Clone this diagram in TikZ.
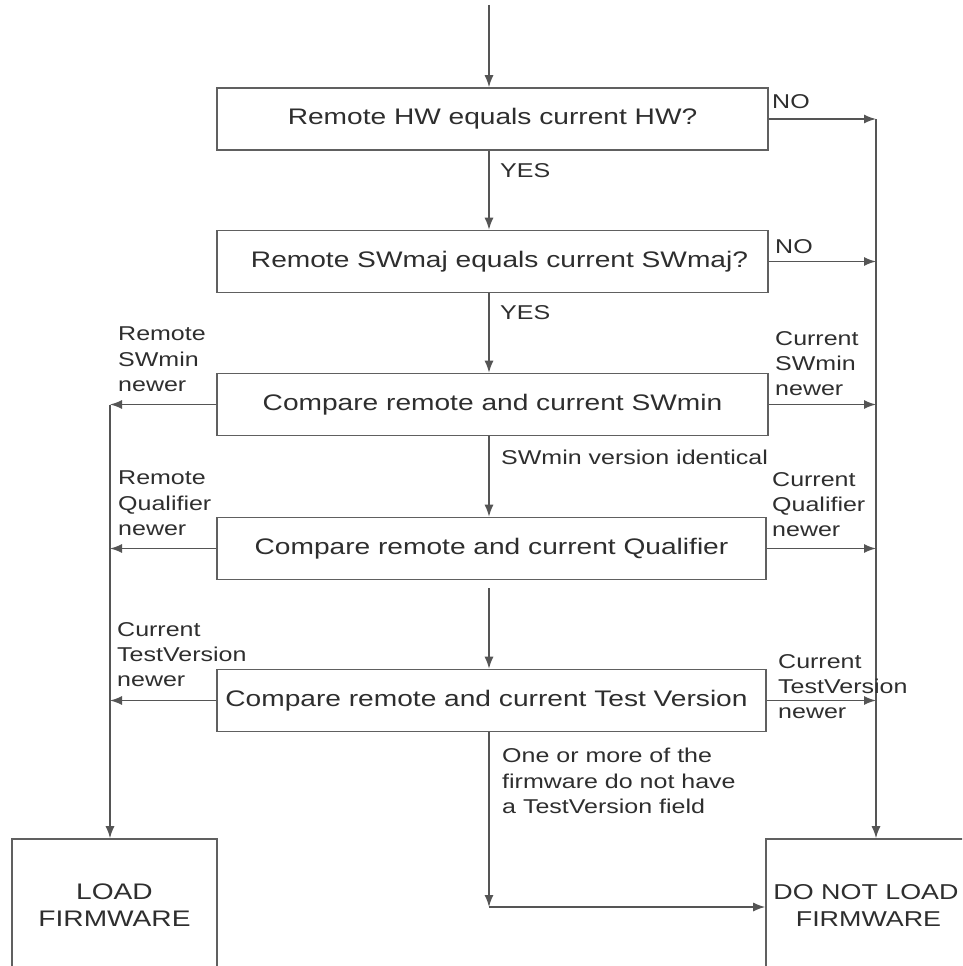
\documentclass[tikz,border=0pt]{standalone}
\usepackage{fontspec}
\setmainfont{Liberation Sans}[FakeStretch=1.25]
\usetikzlibrary{arrows.meta}
\definecolor{txt}{HTML}{2E2E2E}
\definecolor{lncol}{HTML}{555555}
\definecolor{boxcol}{HTML}{606060}
\begin{document}
\begin{tikzpicture}[x=1pt,y=-1pt,
  box/.style={draw=boxcol, line width=1.6pt, minimum width=551pt, minimum height=62pt,
    inner sep=0pt, text=txt, font=\fontsize{22.5}{27}\selectfont},
  endbox/.style={box, minimum width=205pt, minimum height=132pt, align=center},
  lab/.style={text=txt, font=\fontsize{20}{25.3}\selectfont, inner sep=0pt, align=left, anchor=north west},
  lab1/.style={text=txt, font=\fontsize{20}{25.3}\selectfont, inner sep=0pt, anchor=base west},
  arr/.style={draw=lncol, line width=1.4pt, -{Latex[length=12pt,width=9pt]}}]
\clip (0,0) rectangle (962,966);

% boxes
\node[box] (b1) at (492.5,119) {Remote HW equals current HW?};
\node[box] (b2) at (492.5,261.5) {\hspace*{14pt}Remote SWmaj equals current SWmaj?};
\node[box] (b3) at (492.5,404.5) {Compare remote and current SWmin};
\node[box, minimum width=549pt] (b4) at (491.5,548.5) {Compare remote and current Qualifier};
\node[box, minimum width=549pt] (b5) at (491.5,700.5) {Compare remote and current Test Version\hspace*{10pt}};
\node[endbox] (load) at (114.5,905) {LOAD\\FIRMWARE};
\node[endbox, font=\fontsize{21.5}{27}\selectfont] (dnl) at (868.5,905) {DO NOT LOAD\hspace*{5pt}\\FIRMWARE};

% helper coordinates
\coordinate (top) at (489,5);
\coordinate (mx) at (489,0);
\coordinate (rx) at (876,0);
\coordinate (lx) at (110,0);
\coordinate (g4) at (489,588);
\coordinate (bot) at (489,907);

% main column
\draw[arr] (top) -- (b1.north -| mx);
\draw[arr] (b1.south -| mx) -- (b2.north -| mx);
\draw[arr] (b2.south -| mx) -- (b3.north -| mx);
\draw[arr] (b3.south -| mx) -- (b4.north -| mx);
\draw[arr] (g4) -- (b5.north -| mx);
\draw[arr] (b5.south -| mx) -- (bot);
\draw[arr] (bot) -- (dnl.west |- bot);

% right side
\draw[arr] (b1.east) -- (b1.east -| rx);
\draw[arr] (b2.east) -- (b2.east -| rx);
\draw[arr] (b3.east) -- (b3.east -| rx);
\draw[arr] (b4.east) -- (b4.east -| rx);
\draw[arr] (b5.east) -- (b5.east -| rx);
\draw[arr] (b1.east -| rx) -- (dnl.north -| rx);

% left side
\draw[arr] (b3.west) -- (b3.west -| lx);
\draw[arr] (b4.west) -- (b4.west -| lx);
\draw[arr] (b5.west) -- (b5.west -| lx);
\draw[arr] (b3.west -| lx) -- (load.north -| lx);

% labels
\node[lab1] (no1) at (772,108) {NO};
\node[lab1] (no2) at (775,253) {NO};
\node[lab1] (yes1) at (500,177) {YES};
\node[lab1] (yes2) at (500,319) {YES};
\node[lab1] (ident) at (501,464) {SWmin version identical};
\node[lab] (l1) at (118,327) {Remote\\SWmin\\newer};
\node[lab] (l2) at (118,471) {Remote\\Qualifier\\newer};
\node[lab] (l3) at (117,622) {Current\\TestVersion\\newer};
\node[lab] (r1) at (775,331) {Current\\SWmin\\newer};
\node[lab] (r2) at (772,472) {Current\\Qualifier\\newer};
\node[lab] (r3) at (778,654) {Current\\TestVersion\\newer};
\node[lab] (nofield) at (502,748) {One or more of the\\firmware do not have\\a TestVersion field};
\end{tikzpicture}
\end{document}
